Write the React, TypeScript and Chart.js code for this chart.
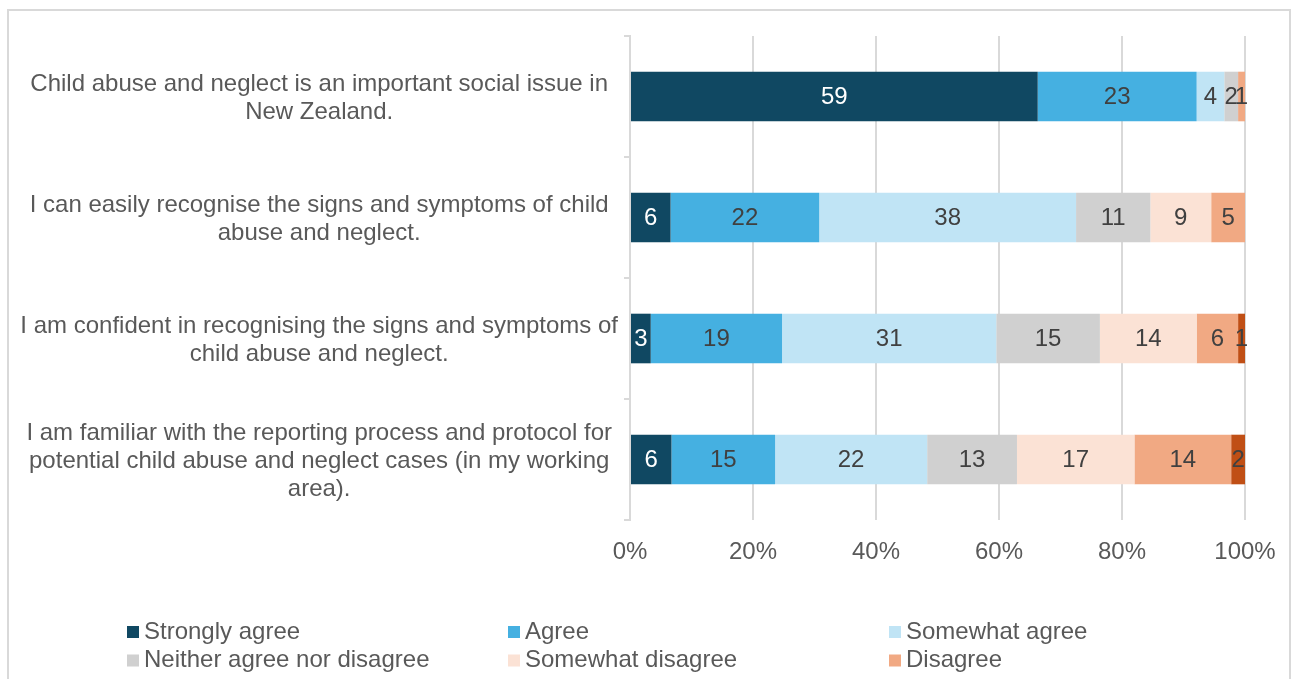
import React, { useEffect, useRef } from "react";
import { Chart, registerables } from "chart.js";

Chart.register(...registerables);

const categories: string[][] = [
  ["Child abuse and neglect is an important social issue in", "New Zealand."],
  ["I can easily recognise the signs and symptoms of child", "abuse and neglect."],
  ["I am confident in recognising the signs and symptoms of", "child abuse and neglect."],
  [
    "I am familiar with the reporting process and protocol for",
    "potential child abuse and neglect cases (in my working",
    "area).",
  ],
];

const seriesNames = [
  "Strongly agree",
  "Agree",
  "Somewhat agree",
  "Neither agree nor disagree",
  "Somewhat disagree",
  "Disagree",
  "Strongly disagree",
];

const stronglyAgree = [59, 6, 3, 6];
const agree = [23, 22, 19, 15];
const somewhatAgree = [4, 38, 31, 22];
const neither = [2, 11, 15, 13];
const somewhatDisagree = [0, 9, 14, 17];
const disagree = [1, 5, 6, 14];
const stronglyDisagree = [0, 0, 1, 2];

const xTickValues = [0, 20, 40, 60, 80, 100];

const seriesColors = ["#104862", "#45B0E1", "#C0E4F5", "#D0D0D0", "#FBE2D5", "#F1A983", "#C04F15"];
const labelColors = ["#FFFFFF", "#404040", "#404040", "#404040", "#404040", "#404040", "#404040"];

const FONT = "'Liberation Sans', Arial, sans-serif";

const allSeries = [stronglyAgree, agree, somewhatAgree, neither, somewhatDisagree, disagree, stronglyDisagree];

const totals = categories.map((_, i) => allSeries.reduce((s, arr) => s + arr[i], 0));

const dataLabelPlugin = {
  id: "segLabels",
  afterDatasetsDraw(chart: any) {
    const ctx = chart.ctx;
    ctx.save();
    ctx.font = `24px ${FONT}`;
    ctx.textAlign = "center";
    ctx.textBaseline = "middle";
    chart.data.datasets.forEach((ds: any, di: number) => {
      const meta = chart.getDatasetMeta(di);
      ctx.fillStyle = ds.labelColor;
      meta.data.forEach((el: any, i: number) => {
        const count = ds.counts[i];
        if (!count) return;
        const p = el.getProps(["x", "base", "y"], true);
        ctx.fillText(String(count), (p.x + p.base) / 2, p.y + 1);
      });
    });
    ctx.restore();
  },
};

const gridLegendPlugin = {
  id: "gridLegend",
  afterDraw(chart: any) {
    const ctx = chart.ctx;
    ctx.save();
    ctx.font = `24px ${FONT}`;
    ctx.textBaseline = "middle";
    ctx.textAlign = "left";
    const startX = 118;
    const colW = 381;
    const startY = 620;
    const rowH = 28.5;
    chart.data.datasets.forEach((ds: any, i: number) => {
      const col = i % 3;
      const row = Math.floor(i / 3);
      const x = startX + col * colW;
      const y = startY + row * rowH;
      ctx.fillStyle = ds.backgroundColor;
      ctx.fillRect(x, y - 5, 12, 12);
      ctx.fillStyle = "#595959";
      ctx.fillText(ds.label, x + 17, y + 1);
    });
    ctx.restore();
  },
};

export default function App() {
  const canvasRef = useRef<HTMLCanvasElement | null>(null);

  useEffect(() => {
    if (!canvasRef.current) return;
    const datasets = allSeries.map((arr, si) => ({
      label: seriesNames[si],
      data: arr.map((v, i) => (v / totals[i]) * 100),
      counts: arr,
      labelColor: labelColors[si],
      backgroundColor: seriesColors[si],
      borderWidth: 0,
      barPercentage: 0.41,
      categoryPercentage: 1,
    }));

    const chart = new Chart(canvasRef.current, {
      type: "bar",
      data: { labels: categories as any, datasets: datasets as any },
      plugins: [dataLabelPlugin, gridLegendPlugin],
      options: {
        indexAxis: "y",
        animation: false,
        responsive: false,
        maintainAspectRatio: false,
        layout: { padding: { left: 0, top: 25, right: 44, bottom: 117 } },
        plugins: {
          legend: { display: false },
          tooltip: { enabled: false },
          title: { display: false },
        },
        scales: {
          x: {
            type: "linear",
            stacked: true,
            min: 0,
            max: 100,
            afterBuildTicks: (scale: any) => {
              scale.ticks = xTickValues.map((v) => ({ value: v }));
            },
            afterFit: (scale: any) => {
              scale.height = 60;
              scale.paddingLeft = 0;
              scale.paddingRight = 0;
            },
            grid: { color: "#d9d9d9", lineWidth: 2, drawTicks: false },
            border: { display: false },
            ticks: {
              padding: 18,
              color: "#595959",
              font: { family: FONT, size: 24 },
              callback: (v: any) => `${v}%`,
            },
          },
          y: {
            type: "category",
            stacked: true,
            afterFit: (scale: any) => {
              scale.width = 621;
              scale.paddingTop = 0;
              scale.paddingBottom = 0;
            },
            grid: {
              display: true,
              drawOnChartArea: false,
              drawTicks: true,
              tickLength: 6,
              offset: true,
              color: "#d9d9d9",
              lineWidth: 2,
            },
            border: { display: true, color: "#d9d9d9", width: 2 },
            ticks: {
              crossAlign: "center",
              padding: 6,
              labelOffset: 2,
              color: "#595959",
              font: { family: FONT, size: 24, lineHeight: 1.17 },
            },
          },
        },
      } as any,
    });
    return () => chart.destroy();
  }, []);

  return (
    <div
      style={{
        position: "fixed",
        left: 7,
        top: 9,
        width: 1284,
        height: 690,
        boxSizing: "border-box",
        border: "2px solid #d9d9d9",
        background: "#fff",
      }}
    >
      <canvas ref={canvasRef} width={1280} height={686} style={{ display: "block" }} />
    </div>
  );
}
